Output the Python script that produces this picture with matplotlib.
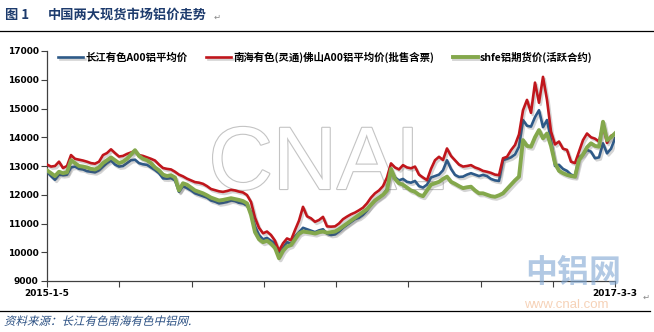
import numpy as np
import matplotlib
matplotlib.use("Agg")
import matplotlib.pyplot as plt
import matplotlib.patheffects as pe
from matplotlib.font_manager import FontProperties
from matplotlib.textpath import TextPath
from matplotlib.patches import PathPatch
from matplotlib.transforms import Affine2D, IdentityTransform
from matplotlib.lines import Line2D

plt.rcParams['font.family'] = ['Noto Sans CJK SC', 'DejaVu Sans']

title_no = "图 1"
title = "中国两大现货市场铝价走势"
source = "资料来源：长江有色南海有色中铝网."
names = ["长江有色A00铝平均价", "南海有色(灵通)佛山A00铝平均价(批售含票)", "shfe铝期货价(活跃合约)"]
date_labels = ["2015-1-5", "2017-3-3"]
yticks = [9000, 10000, 11000, 12000, 13000, 14000, 15000, 16000, 17000]

# 长江有色
changjiang = [
    12800, 12650, 12520, 12700, 12680, 12700, 12950, 12980, 12900, 12880,
    12820, 12800, 12780, 12850, 12980, 13100, 13190, 13050, 12980, 13000,
    13100, 13200, 13220, 13100, 13060, 13040, 12950, 12860, 12750, 12570,
    12560, 12580, 12500, 12100, 12300, 12230, 12150, 12050, 12000, 11950,
    11900, 11800, 11760, 11700, 11720, 11750, 11800, 11780, 11720, 11700,
    11620, 11400, 10900, 10600, 10450, 10500, 10400, 10300, 9900, 10150,
    10350, 10300, 10550, 10700, 10850, 10800, 10750, 10700, 10760, 10800,
    10650, 10600, 10620, 10720, 10850, 10950, 11050, 11150, 11200, 11300,
    11450, 11650, 11800, 11900, 12000, 12200, 12850, 12600, 12500, 12550,
    12450, 12420, 12480, 12300, 12250, 12350, 12600, 12650, 12700, 12850,
    13200, 12900, 12690, 12620, 12630, 12700, 12750, 12700, 12650, 12690,
    12650, 12550, 12500, 12480, 13200, 13250, 13300, 13400, 13670, 14600,
    14400, 14370, 14700, 14940, 14350, 14600, 13900, 13000, 13040, 12900,
    12830, 12700, 12650, 13300, 13400, 13560, 13500, 13270, 13300, 13790,
    13440, 13600, 13960,
]
# 南海有色
nanhai = [
    13050, 12980, 13000, 13150, 12930, 13000, 13380, 13250, 13220, 13190,
    13150, 13100, 13080, 13150, 13380, 13450, 13580, 13450, 13330, 13350,
    13420, 13470, 13520, 13380, 13350, 13300, 13250, 13190, 13050, 12930,
    12900, 12880, 12800, 12700, 12640, 12560, 12500, 12440, 12420, 12380,
    12300, 12200, 12160, 12120, 12100, 12130, 12170, 12150, 12110, 12080,
    11990, 11750, 11200, 10850, 10660, 10720, 10600, 10400, 10050, 10310,
    10480, 10420, 10770, 11100, 11580, 11250, 11180, 11060, 11120, 11230,
    10900, 10890, 10900, 11000, 11150, 11240, 11320, 11380, 11460, 11550,
    11700, 11900, 12050, 12150, 12300, 12600, 13090, 12950, 12880, 13030,
    12950, 12920, 12980, 12700, 12600, 12510, 12900, 13200, 13320, 13210,
    13610, 13350, 13200, 13050, 12980, 13000, 13030, 12950, 12900, 12830,
    12800, 12760, 12700, 12680, 13270, 13320, 13550, 13730, 14100, 14940,
    15300, 14850, 15900, 15200, 16100, 15300, 14200, 13750, 13850, 13600,
    13560, 13150, 13100, 13500, 13900, 14130, 14000, 13950, 13850, 14420,
    13800, 14050, 14100,
]
# shfe
shfe = [
    12850, 12750, 12650, 12800, 12750, 12780, 13200, 13100, 13000, 12980,
    12950, 12900, 12880, 12950, 13100, 13200, 13300, 13200, 13100, 13150,
    13250, 13400, 13550, 13350, 13250, 13200, 13100, 12950, 12850, 12700,
    12650, 12680, 12600, 12150, 12400, 12350, 12250, 12150, 12100, 12050,
    11980, 11900, 11850, 11800, 11820, 11850, 11880, 11850, 11820, 11780,
    11700, 11300, 10700, 10450, 10350, 10400, 10300, 10150, 9790, 10050,
    10200, 10250, 10450, 10650, 10720, 10700, 10680, 10650, 10700, 10720,
    10680, 10700, 10720, 10800, 10900, 11000, 11100, 11200, 11300, 11400,
    11500, 11650, 11800, 11900, 12000, 12150, 12900, 12550, 12400, 12350,
    12250, 12150, 12100, 12000, 11950, 12150, 12350, 12400, 12450, 12550,
    12630, 12450, 12380, 12300, 12230, 12260, 12280, 12150, 12050, 12050,
    12000, 11950, 11930, 11980, 12050, 12200, 12350, 12500, 12630, 13900,
    13700, 13670, 14000, 14250, 13960, 14130, 13700, 13100, 12830, 12750,
    12690, 12650, 12630, 13210, 13400, 13650, 13790, 13700, 13670, 14540,
    13900, 14000, 14135,
]

W, H = 654, 332
fig = plt.figure(figsize=(W / 100, H / 100), dpi=100)
fig.patch.set_facecolor("white")
ax = fig.add_axes([47 / W, 1 - 281 / H, (615 - 47) / W, (281 - 51) / H])

# watermark behind the lines
ax.text(0.5, 0.5, "CNAL", transform=fig.transFigure, ha="center", va="center",
        fontsize=64, family="Liberation Sans", color="white", zorder=0,
        path_effects=[pe.withStroke(linewidth=1.6, foreground="#c4c4c4")])

x = np.arange(len(nanhai))
shadow = [pe.SimpleLineShadow(offset=(1.2, -1.5), alpha=0.25, shadow_color="#555555"), pe.Normal()]
ax.plot(x, changjiang, color="#2e5a88", lw=1.9, label=names[0], path_effects=shadow, zorder=3)
ax.plot(x, nanhai, color="#c0161c", lw=1.9, label=names[1], path_effects=shadow, zorder=3)
ax.plot(x, shfe, color="#84a84c", lw=2.8, label=names[2], path_effects=shadow, zorder=3)

ax.set_xlim(0, len(x) - 1)
ax.set_ylim(9000, 17000)
ax.set_yticks(yticks)
ax.set_yticklabels([str(v) for v in yticks], fontsize=6.5, fontweight="bold", family="DejaVu Sans")
ticks = list(np.arange(0, len(x) - 1, 18.07)) + [len(x) - 1]
ax.set_xticks(ticks)
ax.set_xticklabels([date_labels[0]] + [""] * (len(ticks) - 2) + [date_labels[1]],
                   fontsize=6.5, fontweight="bold", family="DejaVu Sans")
ax.tick_params(axis="both", direction="out", length=4, width=0.8, color="#404040", pad=2)
for s in ["top", "right"]:
    ax.spines[s].set_visible(False)
for s in ["left", "bottom"]:
    ax.spines[s].set_color("#404040")
    ax.spines[s].set_linewidth(0.9)

leg = ax.legend(ncol=3, loc="upper left", bbox_to_anchor=(0.003, 1.04), frameon=False,
                handlelength=2.4, columnspacing=1.8, handletextpad=0.2,
                prop={"size": 7.5, "weight": "bold"})

# title
fig.text(5 / W, 1 - 15 / H, title_no, fontsize=9.5, fontweight="bold", color="#1d3b6d", va="center")
fig.text(48 / W, 1 - 15 / H, title, fontsize=9.5, fontweight="bold", color="#1d3b6d", va="center")
fig.text(214 / W, 1 - 17 / H, "↵", fontsize=6, color="#888888", va="center", family="DejaVu Sans")
fig.text(643 / W, 1 - 297 / H, "↵", fontsize=6, color="#888888", va="center", family="DejaVu Sans")
fig.add_artist(Line2D([0, 1], [1 - 31 / H, 1 - 31 / H], color="black", lw=0.9))
fig.add_artist(Line2D([0, 650 / W], [1 - 311 / H, 1 - 311 / H], color="black", lw=0.9))

# site mark
fig.text(573 / W, 1 - 273 / H, "中铝网", fontsize=23, fontweight="bold", color="#7fa6d2",
         alpha=0.6, ha="center", va="center")
fig.text(566 / W, 1 - 305 / H, "www.cnal.com", fontsize=9.5, family="Liberation Sans",
         color="#f0b488", alpha=0.6, ha="center", va="center")

# slanted source line
fp = FontProperties(family="Noto Sans CJK SC")
tp = TextPath((0, 0), source, size=11.5, prop=fp)
tr = Affine2D().skew_deg(14, 0).translate(4, H - 325)
fig.add_artist(PathPatch(tr.transform_path(tp), facecolor="#2a4f82", lw=0, transform=IdentityTransform()))

fig.savefig("out.png", dpi=100)
